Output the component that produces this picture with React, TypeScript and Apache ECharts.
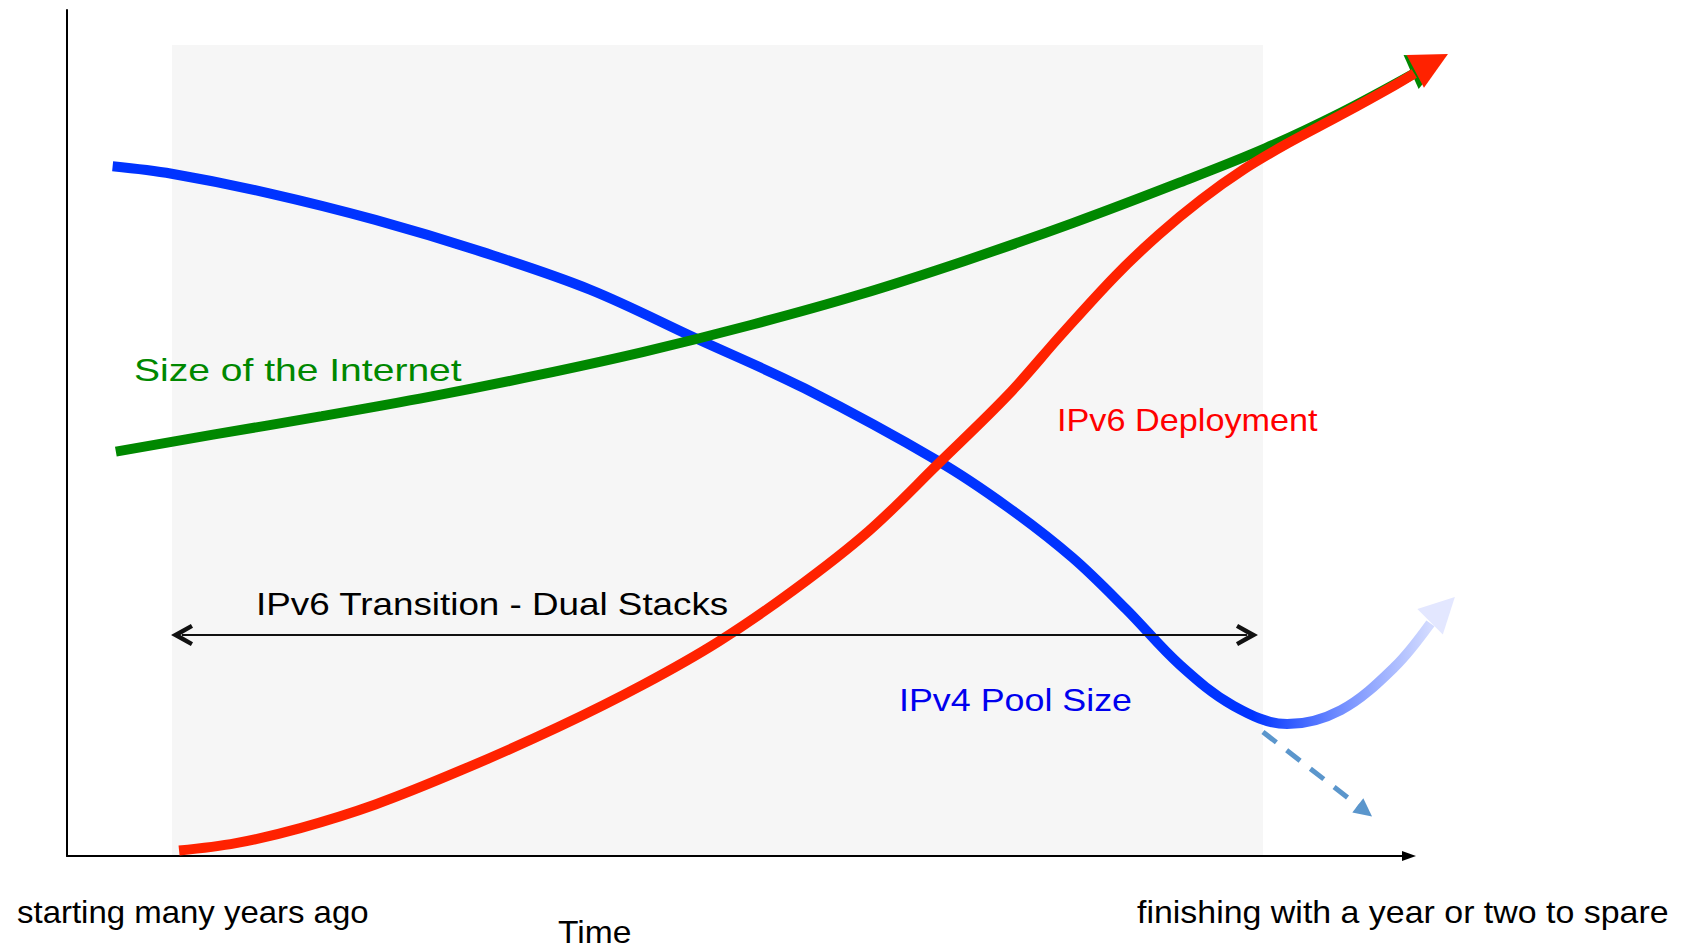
import React, { useEffect, useRef } from "react";
import * as echarts from "echarts";

// Horizontal axis: time, 0 (start) .. 100 (finish). Vertical axis: relative size 0..100.
const ipv4PoolSize: [number, number][] = [
  [3.4, 81.52], [7.8, 80.64], [14.99, 78.36], [22.98, 75.19], [30.98, 71.38], [38.97, 66.95],
  [46.97, 61.11], [54.95, 55.28], [64.95, 46.65], [70.14, 41.2], [74.94, 35.25], [78.93, 29.16],
  [82.94, 22.57], [86.93, 17.75], [90.92, 15.59], [94.93, 17.25], [98.92, 22.32], [101.6, 27.5],
];
const internetSize: [number, number][] = [
  [3.64, 47.8], [10.99, 49.83], [18.99, 51.99], [26.98, 54.27], [34.98, 56.81], [42.97, 59.6],
  [50.96, 62.77], [58.96, 66.31], [66.94, 70.37], [74.94, 74.81], [82.94, 79.62], [89.33, 83.69],
  [94.93, 87.87], [100.3, 92.43],
];
const ipv6Deployment: [number, number][] = [
  [8.35, 0.64], [12.59, 1.52], [17.39, 3.3], [22.98, 6.09], [29.38, 10.14], [36.57, 15.21],
  [42.97, 20.28], [48.56, 25.35], [54.16, 31.44], [59.75, 38.42], [64.95, 46.41], [70.14, 54.52],
  [74.14, 61.7], [78.14, 68.6], [81.33, 73.4], [84.53, 77.6], [87.73, 81.2], [90.92, 84.2],
  [94.93, 87.6], [98.92, 91.1], [100.4, 92.5],
];
// arrow heads at the ends of the three curves
const ipv4ArrowHead: [number, number] = [102.5, 29.15];
const internetArrowHead: [number, number] = [101.42, 93.56];
const ipv6ArrowHead: [number, number] = [101.69, 93.77];
// dual-stack transition period
const transitionSpan: [number, number][] = [[8.57, 26.12], [87.93, 26.12]];
const transitionWindow = { start: 7.82, end: 89.12, top: 95.86 };
// dashed "pool exhaustion" continuation
const poolExhaustionTrend: [number, number][] = [[89.12, 14.66], [96.72, 5.32]];

const labels = {
  internet: "Size of the Internet",
  ipv6: "IPv6 Deployment",
  ipv4: "IPv4 Pool Size",
  transition: "IPv6 Transition - Dual Stacks",
  start: "starting many years ago",
  axis: "Time",
  finish: "finishing with a year or two to spare",
};

const FONT = '"Liberation Sans", Arial, sans-serif';
const CHEVRON = "path://M10,0 L20,19 L16.5,21 L10,9 L3.5,21 L0,19 Z";

function txt(text: string, x: number, y: number, fill: string, scaleX: number) {
  return {
    type: "text",
    x,
    y,
    scaleX,
    silent: true,
    z: 10,
    style: { text, fill, fontSize: 32, fontFamily: FONT, align: "left", verticalAlign: "middle" },
  };
}

export default function App() {
  const ref = useRef<HTMLDivElement>(null);
  useEffect(() => {
    if (!ref.current) return;
    const chart = echarts.init(ref.current, undefined, { renderer: "svg" });
    const hiddenParts = {
      axisTick: { show: false },
      axisLabel: { show: false },
      splitLine: { show: false },
    };
    // grid 0 carries the visible axes; grid 1 (same scale, wider) carries the marks so that
    // the arrow tips beyond the end of the time axis are not clipped.
    const dataMaxX = 104.55;
    const onData = { xAxisIndex: 1, yAxisIndex: 1, clip: false, silent: true };
    chart.setOption({
      animation: false,
      backgroundColor: "#ffffff",
      grid: [
        { left: 67, top: 10, right: 273, bottom: 95, containLabel: false },
        { left: 67, top: 10, right: 212, bottom: 95, containLabel: false },
      ],
      xAxis: [
        {
          type: "value",
          gridIndex: 0,
          min: 0,
          max: 100,
          z: 3,
          ...hiddenParts,
          axisLine: {
            show: true,
            symbol: ["none", "triangle"],
            symbolSize: [10, 14],
            lineStyle: { color: "#000", width: 2 },
          },
        },
        { type: "value", gridIndex: 1, min: 0, max: dataMaxX, show: false },
      ],
      yAxis: [
        {
          type: "value",
          gridIndex: 0,
          min: 0,
          max: 100,
          z: 3,
          ...hiddenParts,
          axisLine: { show: true, lineStyle: { color: "#000", width: 2 } },
        },
        { type: "value", gridIndex: 1, min: 0, max: 100, show: false },
      ],
      series: [
        {
          name: labels.ipv4,
          type: "line",
          ...onData,
          data: ipv4PoolSize,
          smooth: 0.35,
          symbol: "none",
          lineStyle: {
            width: 10,
            color: {
              type: "linear",
              x: 0,
              y: 0,
              x2: 1,
              y2: 0,
              colorStops: [
                { offset: 0, color: "#0033ff" },
                { offset: 0.865, color: "#0033ff" },
                { offset: 0.93, color: "#6f8cff" },
                { offset: 1, color: "#d3dbff" },
              ],
            },
          },
          markArea: {
            silent: true,
            label: { show: false },
            itemStyle: { color: "#f6f6f6" },
            data: [[
              { xAxis: transitionWindow.start, yAxis: 0 },
              { xAxis: transitionWindow.end, yAxis: transitionWindow.top },
            ]],
          },
        },
        {
          type: "scatter",
          ...onData,
          data: [ipv4ArrowHead],
          symbol: "triangle",
          symbolSize: [36, 35],
          symbolRotate: -45,
          itemStyle: { color: "#e3e7ff", opacity: 1 },
        },
        {
          name: labels.internet,
          type: "line",
          ...onData,
          data: internetSize,
          smooth: 0.35,
          symbol: "none",
          lineStyle: { width: 10, color: "#008800" },
        },
        {
          type: "scatter",
          ...onData,
          data: [internetArrowHead],
          symbol: "triangle",
          symbolSize: [37, 37],
          symbolRotate: -66,
          itemStyle: { color: "#008800", opacity: 1 },
        },
        {
          name: labels.ipv6,
          type: "line",
          ...onData,
          data: ipv6Deployment,
          smooth: 0.35,
          symbol: "none",
          lineStyle: { width: 10, color: "#ff2200" },
        },
        {
          type: "scatter",
          ...onData,
          data: [ipv6ArrowHead],
          symbol: "triangle",
          symbolSize: [37, 37],
          symbolRotate: -62,
          itemStyle: { color: "#ff2200", opacity: 1 },
        },
        {
          type: "lines",
          coordinateSystem: "cartesian2d",
          ...onData,
          z: 4,
          symbol: [CHEVRON, CHEVRON],
          symbolSize: 22,
          lineStyle: { color: "#111111", width: 2, opacity: 1, curveness: 0 },
          data: [{ coords: transitionSpan }],
        },
        {
          type: "lines",
          coordinateSystem: "cartesian2d",
          ...onData,
          z: 4,
          symbol: ["none", "triangle"],
          symbolSize: 18,
          lineStyle: { color: "#5b96cc", width: 5, opacity: 1, curveness: 0, type: [17, 13] },
          data: [{ coords: poolExhaustionTrend }],
        },
      ],
      graphic: [
        txt(labels.internet, 134, 370, "#008800", 1.22),
        txt(labels.ipv6, 1057, 420, "#ff0000", 1.07),
        txt(labels.ipv4, 899, 700, "#0000ee", 1.12),
        txt(labels.transition, 256, 604, "#000000", 1.15),
        txt(labels.start, 17, 912, "#000000", 1.03),
        txt(labels.axis, 558, 932, "#000000", 1.05),
        txt(labels.finish, 1137, 912, "#000000", 1.06),
      ],
    });
    return () => chart.dispose();
  }, []);
  return (
    <div
      ref={ref}
      style={{ position: "absolute", left: 0, top: 0, width: 1682, height: 951 }}
    />
  );
}
